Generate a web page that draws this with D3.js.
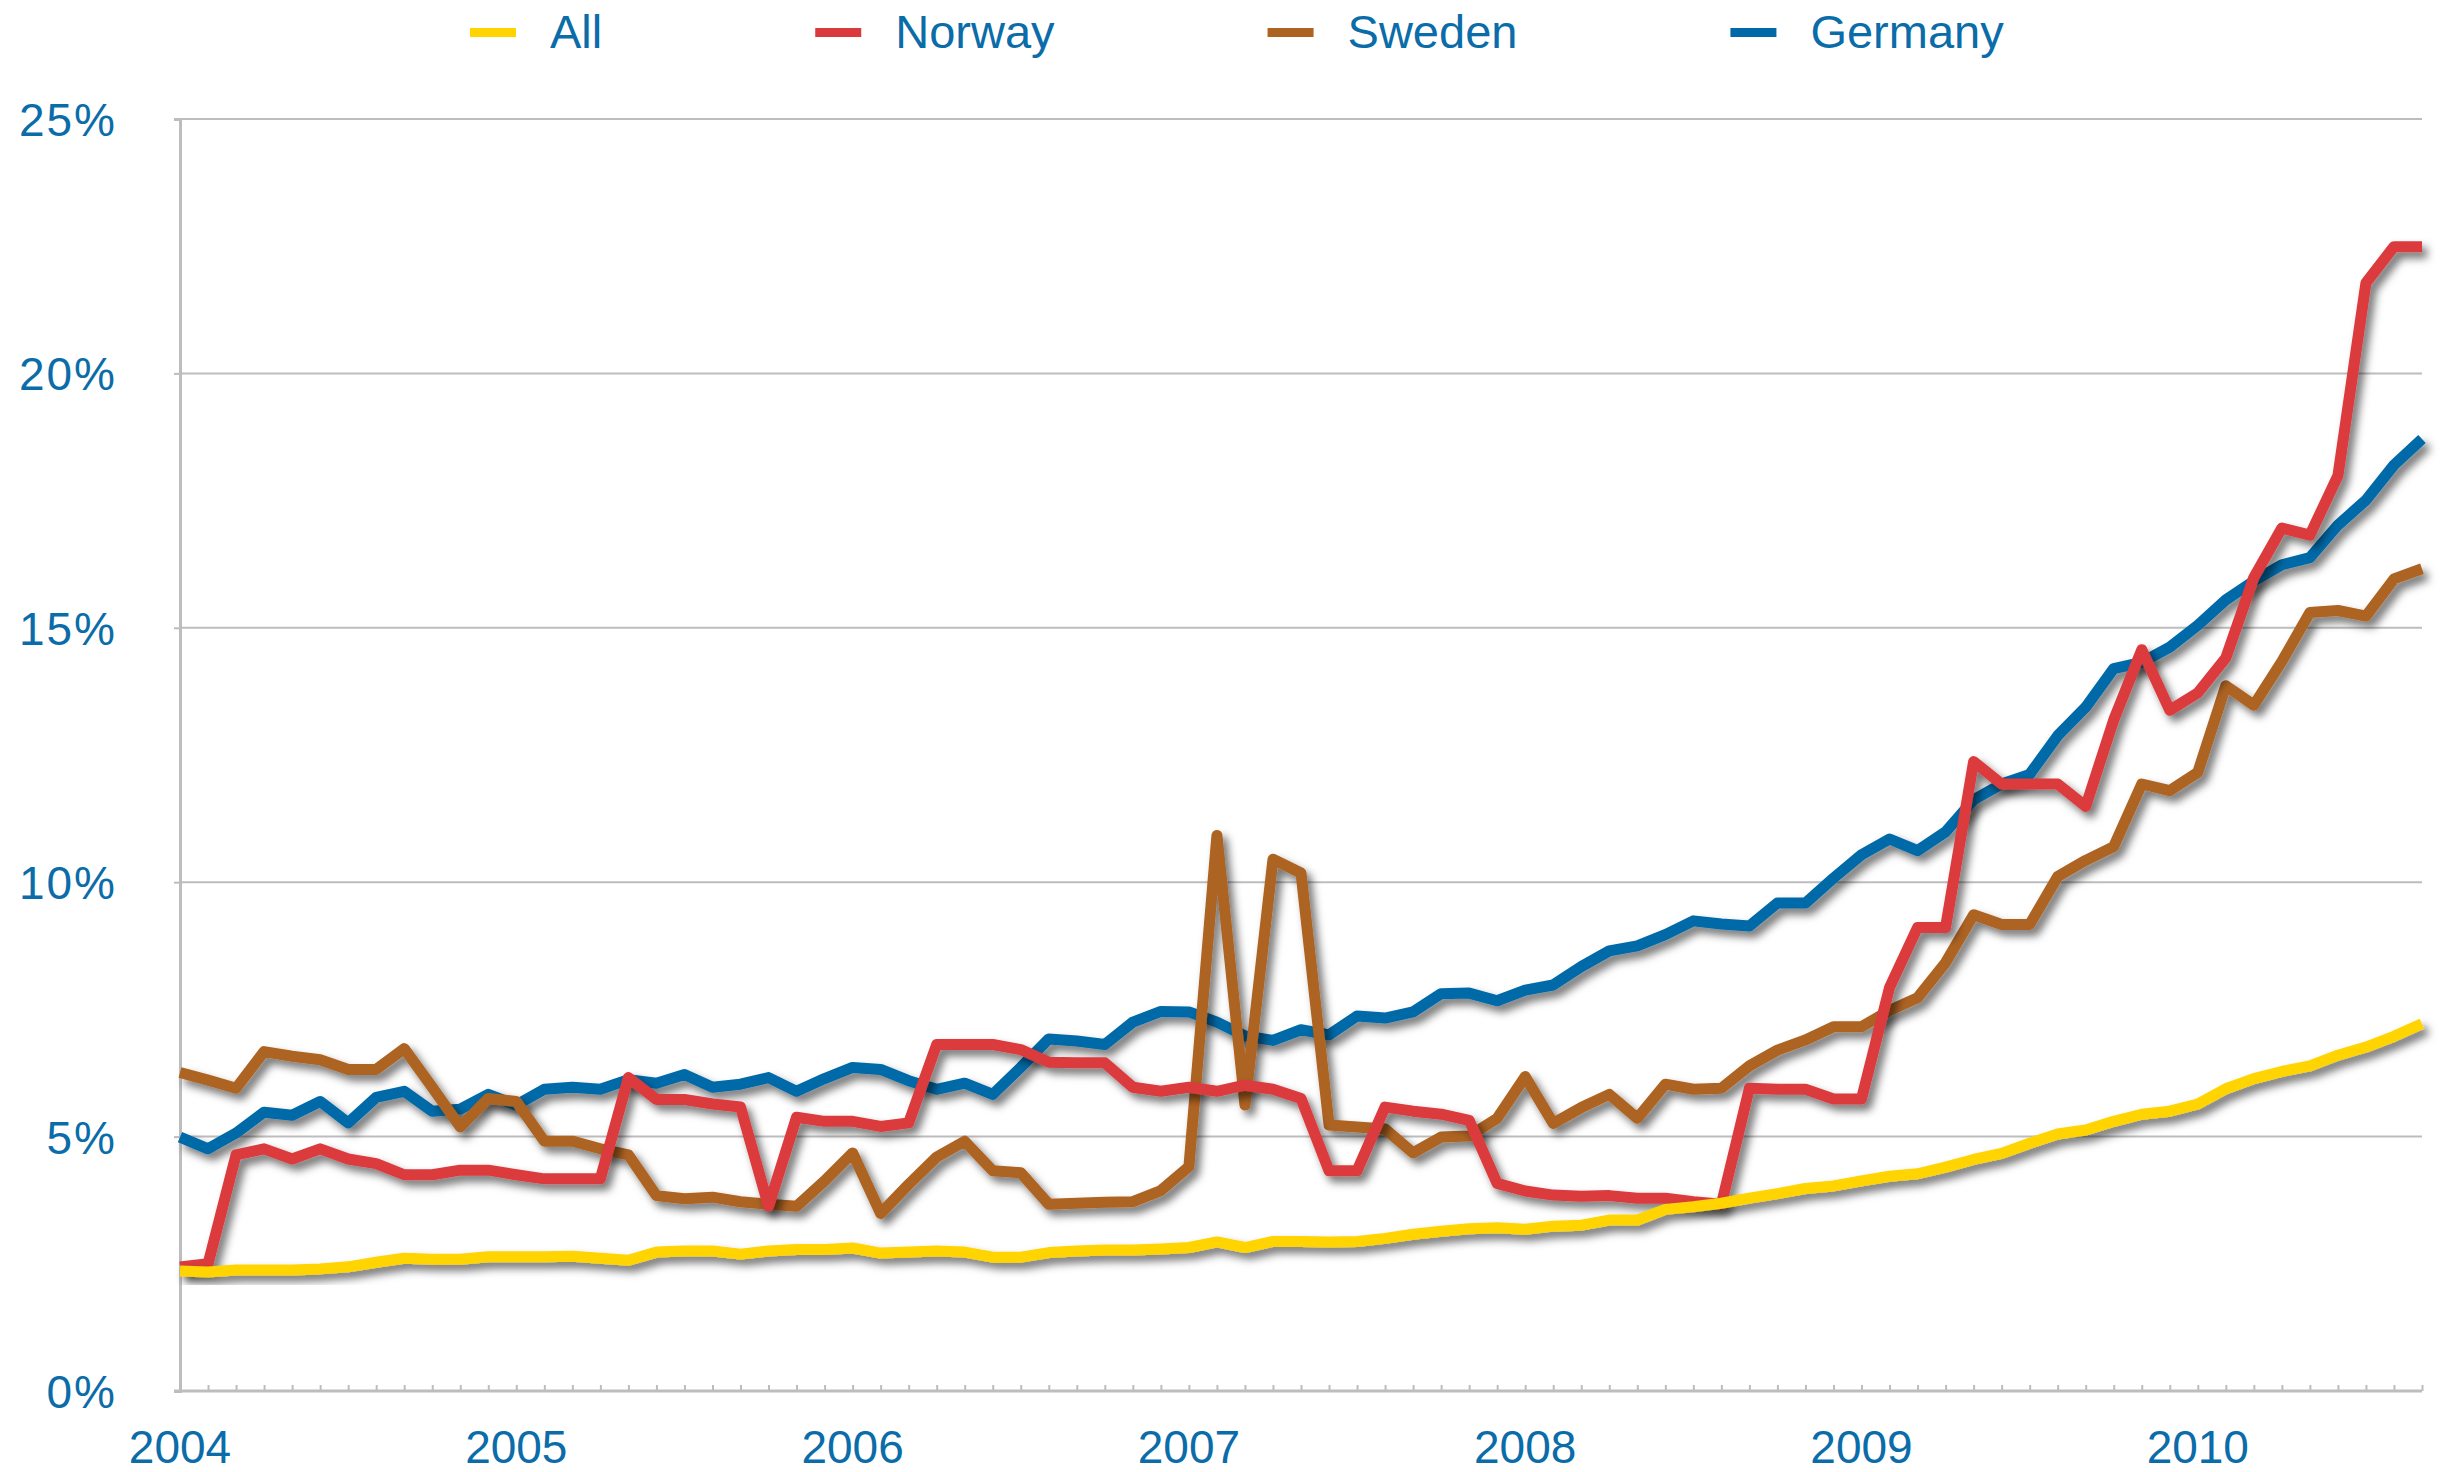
<!DOCTYPE html>
<html>
<head>
<meta charset="utf-8">
<script src="https://cdn.jsdelivr.net/npm/d3@7"></script>
<style>
  html, body { margin: 0; padding: 0; background: #fff; }
  svg { display: block; }
  text { font-family: "Liberation Sans", Arial, Helvetica, sans-serif; fill: #0a6ca8; }
</style>
</head>
<body>
<div id="chart"></div>
<script>
// monthly categories, Jan 2004 .. Sep 2010
const months = d3.timeMonth.range(new Date(2004, 0, 1), new Date(2010, 9, 1));
const yearLabels = ['2004', '2005', '2006', '2007', '2008', '2009', '2010'];
const yTicks = [0, 5, 10, 15, 20, 25];
const seriesNames = ['All', 'Norway', 'Sweden', 'Germany'];
const seriesColors = ['#ffd400', '#db3a3d', '#ad6322', '#0069a7'];

// values in percent
const allValues = [
    2.36, 2.34, 2.38, 2.38, 2.38, 2.40, 2.44, 2.53, 2.61, 2.59, 2.59, 2.64, 2.64, 2.64, 2.65, 2.61,
    2.57, 2.73, 2.75, 2.75, 2.69, 2.75, 2.78, 2.78, 2.81, 2.71, 2.73, 2.75, 2.73, 2.63, 2.63, 2.72,
    2.75, 2.77, 2.77, 2.79, 2.82, 2.93, 2.82, 2.94, 2.94, 2.93, 2.94, 3.00, 3.08, 3.14, 3.19, 3.21,
    3.18, 3.24, 3.26, 3.36, 3.36, 3.57, 3.62, 3.69, 3.79, 3.88, 3.98, 4.03, 4.13, 4.22, 4.27, 4.40,
    4.55, 4.67, 4.87, 5.05, 5.13, 5.30, 5.44, 5.50, 5.64, 5.94, 6.14, 6.28, 6.39, 6.60, 6.76, 6.97, 7.22
];
const norwayValues = [
    2.44, 2.50, 4.64, 4.76, 4.56, 4.76, 4.56, 4.47, 4.25, 4.25, 4.34, 4.34, 4.25, 4.17, 4.17, 4.17,
    6.16, 5.73, 5.73, 5.64, 5.58, 3.63, 5.38, 5.30, 5.30, 5.20, 5.27, 6.81, 6.81, 6.81, 6.71, 6.46,
    6.45, 6.45, 5.97, 5.89, 5.97, 5.89, 6.01, 5.93, 5.75, 4.33, 4.33, 5.58, 5.50, 5.44, 5.32, 4.08,
    3.93, 3.85, 3.83, 3.84, 3.79, 3.79, 3.72, 3.67, 5.95, 5.93, 5.93, 5.74, 5.74, 7.93, 9.11, 9.11,
    12.37, 11.93, 11.93, 11.93, 11.49, 13.19, 14.57, 13.38, 13.72, 14.41, 15.99, 16.96, 16.82, 17.99, 21.78, 22.49, 22.49
];
const swedenValues = [
    6.26, 6.11, 5.95, 6.67, 6.58, 6.51, 6.32, 6.32, 6.73, 5.97, 5.19, 5.75, 5.69, 4.91, 4.91, 4.76,
    4.64, 3.84, 3.78, 3.81, 3.72, 3.67, 3.63, 4.13, 4.68, 3.49, 4.06, 4.60, 4.91, 4.33, 4.29, 3.67,
    3.69, 3.71, 3.72, 3.94, 4.41, 10.92, 5.62, 10.45, 10.18, 5.23, 5.19, 5.15, 4.68, 4.99, 5.01, 5.36,
    6.18, 5.26, 5.57, 5.83, 5.36, 6.03, 5.93, 5.95, 6.39, 6.70, 6.90, 7.16, 7.16, 7.48, 7.73, 8.42,
    9.36, 9.17, 9.17, 10.11, 10.43, 10.70, 11.93, 11.80, 12.16, 13.86, 13.48, 14.34, 15.30, 15.34, 15.23, 15.96, 16.16
];
const germanyValues = [
    4.99, 4.76, 5.07, 5.48, 5.42, 5.69, 5.27, 5.77, 5.89, 5.50, 5.54, 5.83, 5.62, 5.93, 5.97, 5.93,
    6.12, 6.05, 6.22, 5.97, 6.03, 6.16, 5.89, 6.14, 6.36, 6.32, 6.10, 5.93, 6.05, 5.83, 6.36, 6.92,
    6.88, 6.81, 7.25, 7.46, 7.45, 7.25, 6.98, 6.89, 7.10, 7.00, 7.37, 7.33, 7.45, 7.81, 7.82, 7.67,
    7.88, 7.98, 8.34, 8.65, 8.75, 8.97, 9.24, 9.18, 9.14, 9.59, 9.59, 10.08, 10.54, 10.85, 10.62, 10.99,
    11.62, 11.93, 12.12, 12.88, 13.44, 14.20, 14.32, 14.62, 15.05, 15.55, 15.92, 16.24, 16.38, 17.02, 17.51, 18.20, 18.71
];

const seriesValues = [allValues, norwayValues, swedenValues, germanyValues];

const W = 2442, H = 1472;
const margin = { top: 119, right: 20, bottom: 81, left: 180 };
const width = W - margin.left - margin.right;
const height = H - margin.top - margin.bottom;

const svg = d3.select('#chart')
    .append('svg')
    .attr('width', W)
    .attr('height', H);

// soft shadow under the lines
const defs = svg.append('defs');
defs.append('filter')
    .attr('id', 'shadow')
    .attr('x', '-5%').attr('y', '-5%')
    .attr('width', '110%').attr('height', '110%')
    .append('feDropShadow')
    .attr('dx', 5).attr('dy', 6)
    .attr('stdDeviation', 4)
    .attr('flood-color', '#000')
    .attr('flood-opacity', 0.55);

const g = svg.append('g')
    .attr('transform', 'translate(' + margin.left + ',' + margin.top + ')');

const xScale = d3.scalePoint().domain(months).range([0, width]);
const yScale = d3.scaleLinear().domain([0, 25]).range([height, 0]);

// gridlines
g.append('g')
    .selectAll('line')
    .data(yTicks.slice(1))
    .join('line')
    .attr('x1', 0).attr('x2', width)
    .attr('y1', d => yScale(d)).attr('y2', d => yScale(d))
    .attr('stroke', '#bdbdbd')
    .attr('stroke-width', 2);

// y axis
const yAxis = g.append('g')
    .call(d3.axisLeft(yScale).tickValues(yTicks).tickSize(6).tickFormat(''));
yAxis.select('.domain').attr('stroke', '#bdbdbd').attr('stroke-width', 3);
yAxis.selectAll('.tick line').attr('stroke', '#bdbdbd').attr('stroke-width', 2);

g.append('g')
    .selectAll('text')
    .data(yTicks)
    .join('text')
    .attr('x', -63)
    .attr('y', d => yScale(d) + 17)
    .attr('text-anchor', 'end')
    .attr('font-size', 46)
    .attr('letter-spacing', 2)
    .text(d => d + '%');

// x axis, one small tick per month pointing up
const xAxis = g.append('g')
    .attr('transform', 'translate(0,' + height + ')')
    .call(d3.axisBottom(xScale).tickSize(-6).tickSizeOuter(0).tickFormat(''));
xAxis.select('.domain').attr('stroke', '#bdbdbd').attr('stroke-width', 3)
    .attr('d', 'M-6,0H' + width);
xAxis.selectAll('.tick line').attr('stroke', '#bdbdbd').attr('stroke-width', 2);

g.append('g')
    .selectAll('text')
    .data(yearLabels)
    .join('text')
    .attr('x', d => xScale(months.find(m => m.getFullYear() === +d && m.getMonth() === 0)))
    .attr('y', height + 72)
    .attr('text-anchor', 'middle')
    .attr('font-size', 46)
    .text(d => d);

// lines, Germany at the bottom, All on top
const line = d3.line()
    .x((d, i) => xScale(months[i]))
    .y(d => yScale(d));

const order = [3, 2, 1, 0];
g.append('g')
    .selectAll('path')
    .data(order)
    .join('path')
    .attr('d', k => line(seriesValues[k]))
    .attr('fill', 'none')
    .attr('stroke', k => seriesColors[k])
    .attr('stroke-width', 11)
    .attr('stroke-linejoin', 'round')
    .attr('stroke-linecap', 'butt')
    .attr('filter', 'url(#shadow)');

// legend
const legend = svg.append('g');
let lx = 470;
seriesNames.forEach((name, k) => {
    legend.append('rect')
        .attr('x', lx).attr('y', 28)
        .attr('width', 46).attr('height', 9)
        .attr('fill', seriesColors[k]);
    const t = legend.append('text')
        .attr('x', lx + 80).attr('y', 48)
        .attr('font-size', 47)
        .text(name);
    lx += 80 + t.node().getComputedTextLength() + 213;
});
</script>
</body>
</html>
